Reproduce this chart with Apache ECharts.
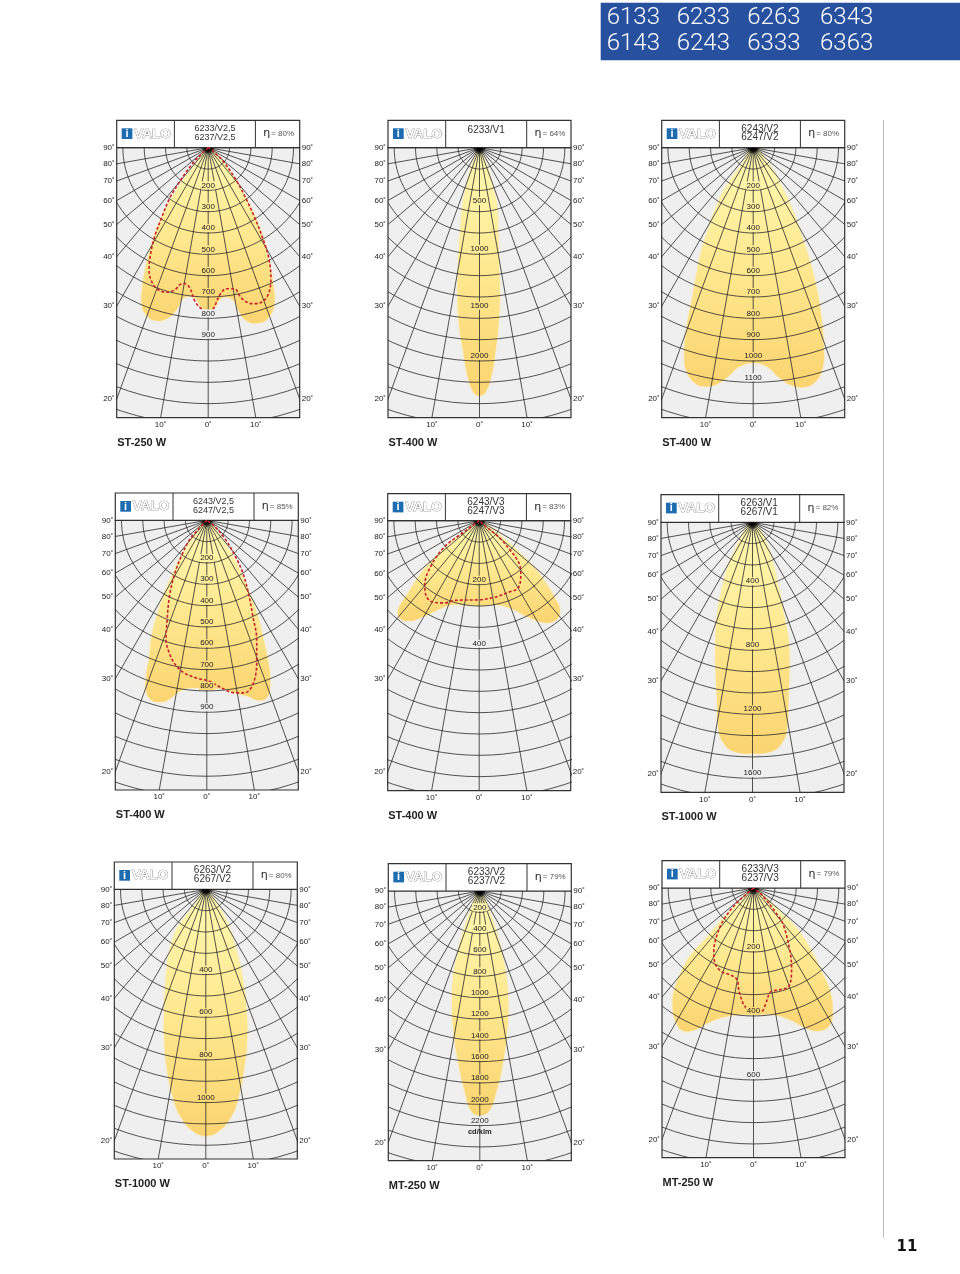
<!DOCTYPE html>
<html><head><meta charset="utf-8">
<style>html,body{margin:0;padding:0;background:#fff}#c{width:960px;height:1274px}</style>
<script src="https://cdn.jsdelivr.net/npm/echarts@6/dist/echarts.min.js"></script>
</head><body><div id="c"></div>
<script>
// ---------- chart content ----------
const bannerRows = [['6133','6233','6263','6343'],['6143','6243','6333','6363']];
const pageNumber = '11';
const models = [['6233/V2,5','6237/V2,5'],['6233/V1'],['6243/V2','6247/V2'],
                ['6243/V2,5','6247/V2,5'],['6243/V3','6247/V3'],['6263/V1','6267/V1'],
                ['6263/V2','6267/V2'],['6233/V2','6237/V2'],['6233/V3','6237/V3']];
const efficiency = [80,64,80,85,83,82,80,79,79];
const lamps = ['ST-250 W','ST-400 W','ST-400 W','ST-400 W','ST-400 W','ST-1000 W','ST-1000 W','MT-250 W','MT-250 W'];
const cdPerRing = [100,200,100,100,200/3,400/3,100,200,200/3];
const isoLabels = [[200,300,400,500,600,700,800,900],[500,1000,1500,2000],
  [200,300,400,500,600,700,800,900,1000,1100],[200,300,400,500,600,700,800,900],[200,400],
  [400,800,1200,1600],[400,600,800,1000],
  [200,400,600,800,1000,1200,1400,1600,1800,2000,2200],[200,400,600]];
const rayAngles = [-80,-70,-60,-50,-40,-30,-20,-10,0,10,20,30,40,50,60,70,80];
const ringSteps = [1,2,3,4,5,6,7,8,9,10,11,12,13];
const sideAngles = [90,80,70,60,50,40,30,20];
const bottomAngles = [-10,0,10];

// isocandela outlines: [lateral cd, axial cd]
const glow1 = [[0,0],[-62,80],[-122,158],[-180,252],[-227,345],[-266,455],[-294,564],[-309,658],[-312,728],[-297,775],[-253,809],[-195,802],[-148,759],[-122,712],[-91,697],[-59,708],[-28,752],[0,767],[28,752],[59,708],[91,702],[122,720],[144,767],[180,811],[234,822],[281,798],[309,736],[305,642],[284,533],[258,423],[216,314],[164,212],[117,134],[62,56]];
const glow2 = [[0,0],[-44,97],[-91,222],[-128,378],[-159,534],[-181,784],[-200,1097],[-206,1347],[-194,1628],[-153,1909],[-106,2159],[-50,2300],[0,2325],[50,2300],[106,2159],[150,1909],[181,1628],[191,1347],[184,1097],[175,784],[162,534],[128,378],[87,222],[44,97]];
const glow3 = [[0,0],[-55,80],[-112,158],[-164,252],[-203,361],[-239,470],[-266,595],[-289,720],[-312,845],[-323,970],[-312,1048],[-273,1103],[-227,1119],[-169,1108],[-117,1072],[-62,1025],[0,1009],[62,1025],[125,1080],[180,1114],[234,1123],[289,1100],[325,1033],[331,939],[320,798],[297,658],[266,533],[231,423],[187,298],[133,181],[70,72]];
const glow4 = [[0,0],[-58,67],[-112,153],[-152,231],[-191,325],[-230,434],[-258,544],[-269,637],[-284,731],[-284,802],[-261,841],[-214,852],[-175,838],[-128,802],[-81,786],[0,789],[83,791],[130,809],[192,825],[247,844],[286,825],[297,747],[286,653],[262,544],[239,450],[200,341],[161,247],[114,153],[59,67]];
const glow5 = [[0,0],[-45,33],[-97,75],[-149,127],[-185,169],[-222,226],[-253,278],[-248,304],[-222,313],[-185,304],[-139,283],[-86,263],[-45,263],[0,266],[49,263],[101,275],[153,301],[205,318],[242,309],[252,278],[237,242],[205,190],[164,138],[111,85],[70,49],[33,18]];
const glow6 = [[0,0],[-56,67],[-108,171],[-156,285],[-192,421],[-219,567],[-231,733],[-231,900],[-223,1087],[-212,1296],[-181,1379],[-119,1431],[0,1446],[121,1431],[183,1379],[215,1296],[225,1087],[231,900],[225,733],[194,567],[162,400],[121,233],[69,87]];
const glow7 = [[0,0],[-52,72],[-106,142],[-145,205],[-173,306],[-188,431],[-195,572],[-195,697],[-183,837],[-153,978],[-114,1072],[-59,1134],[0,1155],[61,1134],[120,1064],[152,978],[180,837],[194,697],[191,572],[175,431],[144,291],[105,166],[50,64]];
const glow8 = [[0,0],[-78,159],[-141,331],[-203,566],[-250,816],[-259,1034],[-250,1284],[-203,1597],[-141,1878],[-78,2066],[0,2103],[84,2066],[156,1878],[219,1597],[259,1284],[266,1034],[250,816],[203,566],[141,331],[78,159]];
const glow9 = [[0,0],[-43,42],[-95,94],[-147,156],[-199,214],[-225,261],[-246,313],[-253,365],[-243,417],[-220,446],[-183,443],[-147,424],[-95,404],[-43,396],[0,396],[61,396],[114,412],[166,438],[207,446],[239,427],[247,375],[239,323],[213,261],[176,188],[134,125],[82,73],[41,31]];
const glows = [glow1,glow2,glow3,glow4,glow5,glow6,glow7,glow8,glow9];

const dash1 = [[0,0],[-28,25],[-78,80],[-133,158],[-180,236],[-219,330],[-253,423],[-273,517],[-277,580],[-262,634],[-234,666],[-195,678],[-156,666],[-133,642],[-109,637],[-86,658],[-62,720],[-31,756],[0,767],[23,756],[55,689],[86,661],[122,661],[156,705],[203,731],[242,728],[281,689],[294,611],[284,517],[258,431],[219,330],[172,228],[125,142],[70,64],[23,17],[0,0]];
const dash4 = [[0,0],[-34,36],[-81,91],[-123,177],[-152,255],[-175,356],[-186,466],[-191,559],[-170,637],[-144,681],[-105,716],[-50,739],[12,755],[75,789],[130,809],[177,809],[216,770],[234,669],[234,559],[216,450],[195,341],[169,247],[130,161],[83,83],[36,28],[0,0]];
const dash5 = [[0,0],[-24,18],[-60,44],[-107,80],[-149,138],[-170,200],[-165,237],[-144,255],[-107,257],[-76,249],[2,247],[49,239],[91,224],[122,210],[130,164],[124,132],[96,91],[59,49],[23,20],[0,0]];
const dash9 = [[0,0],[-22,19],[-53,47],[-90,94],[-114,146],[-124,198],[-121,234],[-100,261],[-69,273],[-51,287],[-45,323],[-27,370],[-1,388],[25,386],[41,354],[53,325],[82,318],[111,307],[119,250],[114,198],[93,115],[67,73],[30,26],[0,0]];
const dashes = [dash1,null,null,dash4,dash5,null,null,null,dash9];

// ---------- layout ----------
const frames = [ // left, top of header, top of plot, bottom of plot
  [116.7,120.3,147.7,417.7],[388,120.3,147.7,417.6],[661.7,120.3,147.7,417.7],
  [115.3,493,520.3,790],[387.7,493.7,520.7,790.7],[661,494.7,522.3,792.3],
  [114.3,862,889.3,1159],[388.3,863.7,891,1160.7],[662,860.7,888,1157.7]];
const FRAME_W = 183, PX_PER_RING = 21.33;
const labelLift = {1:[0,5.5,2,5]};
const DEG = '\u02DA';
const FONT = '"Liberation Sans", Arial, sans-serif';
const stops = ['#fff9b2','#fee88f','#fbd470'];

function hexLerp(a,b,t){const p=s=>[1,3,5].map(i=>parseInt(s.substr(i,2),16));const A=p(a),B=p(b);
  return 'rgb('+A.map((v,i)=>Math.round(v+(B[i]-v)*t)).join(',')+')';}
function inside(pt,poly){let c=false;for(let i=0,j=poly.length-1;i<poly.length;j=i++){
  const [xi,yi]=poly[i],[xj,yj]=poly[j];
  if((yi>pt[1])!==(yj>pt[1])&&pt[0]<(xj-xi)*(pt[1]-yi)/(yj-yi)+xi)c=!c;}return c;}

const grid=[],xAxis=[],yAxis=[],series=[],graphic=[];
const rad=d=>d*Math.PI/180;
const axisLabelStyle={fontFamily:FONT,fontSize:8,color:'#222'};

frames.forEach(([L,T,P,B],i)=>{
  const unit=cdPerRing[i], H=B-P;
  const xHalf=FRAME_W/2/PX_PER_RING*unit, yMax=H/PX_PER_RING*unit;
  grid.push({left:L,top:P,width:FRAME_W,height:H,show:true,backgroundColor:'#efefef',borderColor:'#333',borderWidth:1.2});
  const sideVals=sideAngles.map(a=>a===90?0:xHalf/Math.tan(rad(a)));
  const sideFmt=v=>Math.round(Math.atan2(xHalf,v)/rad(10))*10+DEG;
  xAxis.push({type:'value',gridIndex:i,min:-xHalf,max:xHalf,splitLine:{show:false},axisLine:{show:false},axisTick:{show:false},
    axisLabel:Object.assign({customValues:bottomAngles.map(a=>yMax*Math.tan(rad(a))),margin:3,
      formatter:v=>Math.round(Math.abs(Math.atan2(v,yMax))/rad(10))*10+DEG},axisLabelStyle)});
  ['left','right'].forEach(pos=>yAxis.push({type:'value',gridIndex:i,position:pos,inverse:true,min:0,max:yMax,
    splitLine:{show:false},axisLine:{show:false},axisTick:{show:false},
    axisLabel:Object.assign({customValues:sideVals,margin:2,formatter:sideFmt},axisLabelStyle)}));
  const base={xAxisIndex:i,yAxisIndex:i*2,silent:true,animation:false};

  // glow
  const glow=glows[i];
  series.push(Object.assign({},base,{type:'custom',z:2,clip:true,data:glow,
    renderItem:(p,api)=>p.dataIndex!==0?null:({type:'polygon',
      shape:{points:glow.map(q=>api.coord(q)),smooth:0.45},
      style:{fill:{type:'linear',x:0,y:0,x2:0,y2:1,colorStops:[{offset:0,color:stops[0]},{offset:.5,color:stops[1]},{offset:1,color:stops[2]}]},
        shadowBlur:3,shadowColor:'#fde9a8'}})}));
  // rings
  series.push(Object.assign({},base,{type:'custom',z:3,clip:true,data:ringSteps.map(k=>[k*unit]),
    renderItem:(p,api)=>{const r=api.value(0),pts=[];
      for(let a=-90;a<=90;a+=3)pts.push(api.coord([r*Math.sin(rad(a)),r*Math.cos(rad(a))]));
      return {type:'polyline',shape:{points:pts},style:{stroke:'#2a2a2a',lineWidth:.8,fill:null}};}}));
  // rays
  series.push(Object.assign({},base,{type:'custom',z:3,clip:true,data:rayAngles.map(a=>[a]),
    renderItem:(p,api)=>{const a=rad(api.value(0)),r=20*unit;const s=api.coord([0,0]),e=api.coord([r*Math.sin(a),r*Math.cos(a)]);
      return {type:'line',shape:{x1:s[0],y1:s[1],x2:e[0],y2:e[1]},style:{stroke:'#2a2a2a',lineWidth:.8}};}}));
  // apex where the rays meet
  series.push(Object.assign({},base,{type:'custom',z:4,clip:true,data:[[0,0]],
    renderItem:(p,api)=>{const c=api.coord([0,0]);
      return {type:'circle',shape:{cx:c[0],cy:c[1],r:7},style:{fill:{type:'radial',x:.5,y:.5,r:.5,colorStops:[{offset:0,color:'#000'},{offset:.45,color:'rgba(0,0,0,.9)'},{offset:1,color:'rgba(0,0,0,0)'}]}}};}}));
  // dashed curve
  if(dashes[i]) series.push(Object.assign({},base,{type:'line',z:5,clip:true,data:dashes[i],showSymbol:false,smooth:.35,
    lineStyle:{color:'#c4202b',width:1.6,type:[3,2]}}));
  // value labels
  const ys=glow.map(q=>q[1]),gMax=Math.max(...ys);
  series.push(Object.assign({},base,{type:'custom',z:6,clip:false,data:isoLabels[i].map(v=>[v]),
    renderItem:(p,api)=>{const v=api.value(0),c=api.coord([0,v]);
      const lift=labelLift[i]?labelLift[i][p.dataIndex]:5;
      const cd=v-lift/PX_PER_RING*unit;
      let bg='#efefef';
      if(inside([0,cd],glow)){const t=cd/gMax;bg=t<.5?hexLerp(stops[0],stops[1],t*2):hexLerp(stops[1],stops[2],(t-.5)*2);}
      return {type:'text',x:c[0],y:c[1]-lift,style:{text:String(v),font:'8px '+FONT,fill:'#1a1a1a',align:'center',verticalAlign:'middle',backgroundColor:bg,padding:[0,1]}};}}));

  // header box
  const W=FRAME_W,hh=P-T;
  graphic.push({type:'rect',shape:{x:L,y:T,width:W,height:hh},style:{fill:'#fff',stroke:'#333',lineWidth:1.2}});
  [57.7,138.7].forEach(d=>graphic.push({type:'line',shape:{x1:L+d,y1:T,x2:L+d,y2:P},style:{stroke:'#333',lineWidth:1}}));
  graphic.push({type:'rect',shape:{x:L+5,y:T+8,width:10.7,height:10.7},style:{fill:'#1e6cb0'}});
  graphic.push({type:'text',x:L+10.3,y:T+13.5,style:{text:'i',font:'bold 11px '+FONT,fill:'#fff',align:'center',verticalAlign:'middle'}});
  graphic.push({type:'text',x:L+17.5,y:T+13.7,style:{text:'VALO',font:'bold 13.5px '+FONT,fill:'#fff',stroke:'#555',lineWidth:.6,align:'left',verticalAlign:'middle'}});
  const m=models[i],fs=/,/.test(m[0])?9:10,mx=L+98.2;
  if(m.length===1) graphic.push({type:'text',x:mx,y:T+9.7,style:{text:m[0],font:fs+'px '+FONT,fill:'#333',align:'center',verticalAlign:'middle'}});
  else m.forEach((t,k)=>graphic.push({type:'text',x:mx,y:T+8.7+k*8.7,style:{text:t,font:fs+'px '+FONT,fill:'#333',align:'center',verticalAlign:'middle'}}));
  graphic.push({type:'text',x:L+150,y:T+13,style:{text:'\u03B7',font:'11px "DejaVu Sans", sans-serif',fill:'#222',align:'center',verticalAlign:'middle'}});
  graphic.push({type:'text',x:L+154.5,y:T+13.5,style:{text:'= '+efficiency[i]+'%',font:'8px '+FONT,fill:'#555',align:'left',verticalAlign:'middle'}});
  // lamp caption
  graphic.push({type:'text',x:L+.5,y:B+25,style:{text:lamps[i],font:'bold 11px '+FONT,fill:'#222',align:'left',verticalAlign:'middle'}});
});

// unit note under the 2200 label
graphic.push({type:'text',x:388.3+FRAME_W/2,y:1132,style:{text:'cd/klm',font:'bold 7.5px '+FONT,fill:'#222',align:'center',verticalAlign:'middle'}});
// banner
graphic.push({type:'rect',shape:{x:600.7,y:2.7,width:359.3,height:57.6},style:{fill:'#27519f'}});
const bannerX=[606.7,676.7,747.3,820],bannerY=[17.5,44];
bannerRows.forEach((row,r)=>row.forEach((t,c)=>graphic.push({type:'text',x:bannerX[c],y:bannerY[r],
  style:{text:t,font:'300 24px Roboto, "Liberation Sans", sans-serif',fill:'#fff',align:'left',verticalAlign:'middle'}})));
// side rule and page number
graphic.push({type:'line',shape:{x1:883.5,y1:120,x2:883.5,y2:1238},style:{stroke:'#bdbdbd',lineWidth:1}});
graphic.push({type:'text',x:907,y:1247,style:{text:pageNumber,font:'bold 15px "DejaVu Sans", sans-serif',fill:'#111',align:'center',verticalAlign:'middle'}});

const chart=echarts.init(document.getElementById('c'),null,{renderer:'canvas',width:960,height:1274});
chart.setOption({animation:false,backgroundColor:'#fff',tooltip:{show:false},grid,xAxis,yAxis,series,graphic});
</script></body></html>
